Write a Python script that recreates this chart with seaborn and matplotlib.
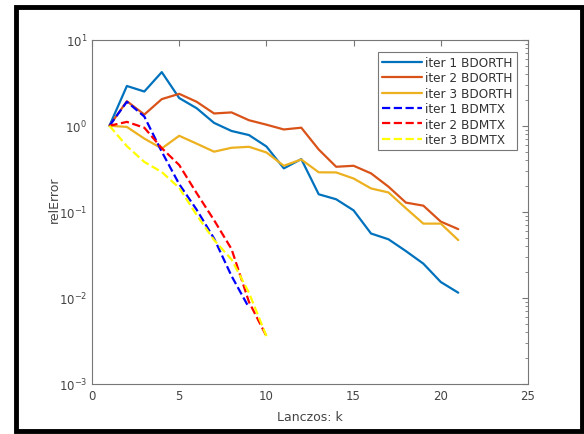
import numpy as np
import pandas as pd
import seaborn as sns
import matplotlib
matplotlib.use("Agg")
import matplotlib.pyplot as plt
from matplotlib.patches import Rectangle
from matplotlib.ticker import LogLocator, FixedLocator

k_orth = list(range(1, 22))
iter1_bdorth = [1.0, 2.9, 2.5, 4.2, 2.1, 1.6, 1.08, 0.87, 0.78, 0.575, 0.32, 0.41,
                0.16, 0.14, 0.104, 0.056, 0.048, 0.035, 0.025, 0.0153, 0.0115]
iter2_bdorth = [1.0, 1.93, 1.35, 2.04, 2.35, 1.9, 1.39, 1.43, 1.16, 1.03, 0.906, 0.95,
                0.53, 0.334, 0.343, 0.28, 0.196, 0.128, 0.118, 0.077, 0.063]
iter3_bdorth = [1.0, 0.97, 0.71, 0.545, 0.765, 0.62, 0.50, 0.555, 0.57, 0.49, 0.343, 0.406,
                0.288, 0.287, 0.244, 0.187, 0.168, 0.11, 0.073, 0.073, 0.047]

k_mtx1 = list(range(1, 10))
iter1_bdmtx = [1.0, 1.9, 1.28, 0.5, 0.21, 0.106, 0.049, 0.018, 0.0077]
k_mtx = list(range(1, 11))
iter2_bdmtx = [1.0, 1.11, 0.95, 0.55, 0.35, 0.165, 0.08, 0.037, 0.009, 0.0036]
iter3_bdmtx = [1.0, 0.58, 0.38, 0.29, 0.19, 0.092, 0.047, 0.028, 0.0115, 0.0036]

series = [
    ("iter 1 BDORTH", k_orth, iter1_bdorth, "#0072BD", "-"),
    ("iter 2 BDORTH", k_orth, iter2_bdorth, "#D95319", "-"),
    ("iter 3 BDORTH", k_orth, iter3_bdorth, "#EDB120", "-"),
    ("iter 1 BDMTX", k_mtx1, iter1_bdmtx, "#0000FF", "--"),
    ("iter 2 BDMTX", k_mtx, iter2_bdmtx, "#FF0000", "--"),
    ("iter 3 BDMTX", k_mtx, iter3_bdmtx, "#FFFF00", "--"),
]

sns.set_style("white")
plt.rcParams["font.family"] = ["DejaVu Sans"]
plt.rcParams["mathtext.default"] = "regular"

fig = plt.figure(figsize=(5.84, 4.35), dpi=100)
ax = fig.add_axes([92/584, 1-385/435, (528-92)/584, (385-40.7)/435])

for name, kk, vals, col, ls in series:
    df = pd.DataFrame({"k": kk, "relError": vals})
    line_kw = dict(linestyle=ls)
    if ls == "--":
        line_kw["dashes"] = (3.5, 2.2)
    sns.lineplot(data=df, x="k", y="relError", ax=ax, color=col, linewidth=1.6,
                 label=name, sort=False, **line_kw)

ax.set_yscale("log")
ax.set_xlim(0, 25)
ax.set_ylim(1e-3, 1e1)
ax.set_xticks([0, 5, 10, 15, 20, 25])
ax.yaxis.set_major_locator(FixedLocator([1e-3, 1e-2, 1e-1, 1e0, 1e1]))
ax.yaxis.set_minor_locator(LogLocator(base=10, subs=np.arange(2, 10), numticks=20))
ax.set_yticklabels([r"$10^{-3}$", r"$10^{-2}$", r"$10^{-1}$", r"$10^{0}$", r"$10^{1}$"])

axc = "#444444"
for sp in ax.spines.values():
    sp.set_visible(True)
    sp.set_color("#777777")
    sp.set_linewidth(0.8)
ax.tick_params(which="both", direction="in", top=True, right=True, colors="#777777",
               labelcolor=axc, labelsize=8.5)
ax.tick_params(which="major", length=4)
ax.tick_params(which="minor", length=2)
ax.set_xlabel("Lanczos: k", fontsize=9, color=axc)
ax.set_ylabel("relError", fontsize=9, color=axc)
ax.xaxis.set_label_coords((310-92)/(528-92), -(411-385)/(385-40.7))
ax.yaxis.set_label_coords(-(92-60.5)/(528-92), (385-200)/(385-40.7))

leg = ax.legend(loc="upper right", bbox_to_anchor=(517/584, 1-52.7/435), bbox_transform=fig.transFigure,
                fontsize=8.7, frameon=True, fancybox=False, handlelength=3.3, handletextpad=0.3,
                labelspacing=0.2, borderpad=0.35, borderaxespad=0)
leg.get_frame().set_edgecolor("#555555")
leg.get_frame().set_linewidth(0.8)
for t in leg.get_texts():
    t.set_color("#333333")

fig.patches.append(Rectangle((15.5/584, 1-432/435), (581.5-15.5)/584, (432-7.5)/435,
                             transform=fig.transFigure, fill=False, edgecolor="black",
                             linewidth=3.5, zorder=10))

fig.savefig("out.png", dpi=100)
